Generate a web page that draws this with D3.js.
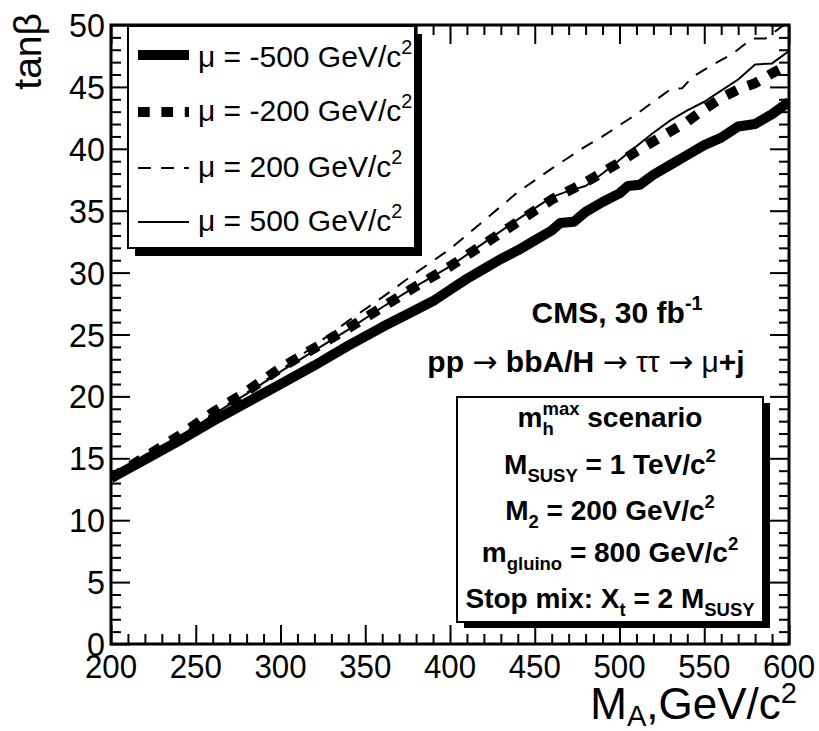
<!DOCTYPE html>
<html><head><meta charset="utf-8">
<script src="https://cdn.jsdelivr.net/npm/d3@7"></script>
<style>
body{margin:0;background:#fff}
svg{display:block}
text{font-family:"Liberation Sans",Arial,Helvetica,sans-serif;white-space:pre;fill:#000}
</style>
</head><body>
<svg id="c" width="819" height="731"></svg>
<script>
// ---------- data ----------
const xMajorTicks = [200,250,300,350,400,450,500,550,600];
const yMajorTicks = [0,5,10,15,20,25,30,35,40,45,50];

// mu = -500 GeV/c^2 (thick solid)
const mA_m500 = [200,220,240,260,280,300,320,340,360,380,390,400,410,420,430,440,450,460,465,473,480,490,500,505,512,520,530,540,550,560,570,580,590,600];
const tb_m500 = [13.4,14.9,16.4,18.0,19.5,21.0,22.5,24.1,25.6,27.0,27.7,28.6,29.5,30.3,31.1,31.8,32.6,33.4,34.0,34.1,34.9,35.7,36.4,37.0,37.1,37.9,38.7,39.5,40.3,40.9,41.8,42.0,42.8,43.8];

// mu = -200 GeV/c^2 (thick dotted)
const mA_m200 = [200,220,240,260,280,300,320,340,360,380,400,420,440,460,470,480,490,500,510,520,530,540,550,560,570,580,590,600];
const tb_m200 = [13.4,15.1,16.8,18.7,20.4,22.3,23.9,25.5,27.2,28.9,30.5,32.3,34.1,35.9,36.6,37.3,38.1,38.9,39.8,40.6,41.4,42.2,43.2,44.1,44.8,45.3,46.1,46.8];

// mu = 200 GeV/c^2 (dashed)
const mA_p200 = [200,220,240,260,280,300,320,340,360,380,400,420,440,460,470,480,490,500,510,520,530,537,543,555,567,578,586,600];
const tb_p200 = [13.4,15.1,16.8,18.6,20.3,22.1,24.1,26.1,28.0,30.0,31.9,34.2,36.5,38.4,39.3,40.2,41.0,41.9,42.8,43.8,44.8,44.9,45.8,46.8,47.7,48.9,48.9,50.3];

// mu = 500 GeV/c^2 (thin solid)
const mA_p500 = [200,220,240,260,280,300,320,340,360,380,400,420,440,460,470,480,490,500,510,520,530,540,550,560,570,580,590,600];
const tb_p500 = [13.4,15.0,16.6,18.5,20.2,22.0,23.7,25.4,27.2,28.9,30.5,32.4,34.3,36.1,36.6,37.0,38.0,39.1,40.2,41.3,42.3,43.1,43.8,44.7,45.6,46.8,46.9,47.9];

const legendValues = ["-500","-200","200","500"];

// ---------- layout ----------
const W=819,H=731;
const L=111,R=789,T=25,B=644;
const x = d3.scaleLinear().domain([200,600]).range([L,R]);
const y = d3.scaleLinear().domain([0,50]).range([B,T]);
const svg = d3.select('#c');
svg.append('rect').attr('width',W).attr('height',H).attr('fill','#fff');
svg.append('defs').append('clipPath').attr('id','clip')
  .append('rect').attr('x',L).attr('y',T).attr('width',R-L).attr('height',B-T);

const xMinor = d3.range(200,601,10).filter(v=>v%50!==0);
const yMinor = d3.range(0,51,1).filter(v=>v%5!==0);

function ax(gen, tx, ty, vals, len){
  const g = svg.append('g').attr('transform',`translate(${tx},${ty})`)
    .call(gen.tickValues(vals).tickSize(-len).tickFormat(''));
  g.select('.domain').remove();
  g.selectAll('line').attr('stroke','#000').attr('stroke-width',2);
}
[[xMajorTicks,19],[xMinor,10]].forEach(([v,l])=>{
  ax(d3.axisBottom(x),0,B,v,l);
  ax(d3.axisTop(x),0,T,v,l);
});
[[yMajorTicks,19],[yMinor,10]].forEach(([v,l])=>{
  ax(d3.axisLeft(y),L,0,v,l);
  ax(d3.axisRight(y),R,0,v,l);
});

// ---------- curves ----------
const line = d3.line().x(d=>x(d[0])).y(d=>y(d[1]));
const series = [
  {xs:mA_m500, ys:tb_m500, w:10, dash:null},
  {xs:mA_p500, ys:tb_p500, w:2, dash:null},
  {xs:mA_p200, ys:tb_p200, w:2, dash:"13,10"},
  {xs:mA_m200, ys:tb_m200, w:10, dash:"11.7,11.7"}
];
const cg = svg.append('g').attr('clip-path','url(#clip)');
series.forEach(s=>{
  cg.append('path').datum(s.xs.map((v,i)=>[v,s.ys[i]]))
    .attr('d',line).attr('fill','none').attr('stroke','#000')
    .attr('stroke-width',s.w).attr('stroke-linejoin','round')
    .attr('stroke-dasharray',s.dash);
});

// frame
svg.append('rect').attr('x',L).attr('y',T).attr('width',R-L).attr('height',B-T)
  .attr('fill','none').attr('stroke','#000').attr('stroke-width',3);

// ---------- tick labels ----------
xMajorTicks.forEach(v=>{
  svg.append('text').attr('transform',`translate(${x(v)},678) scale(0.92,1)`)
    .attr('text-anchor','middle').attr('font-size',34).text(v);
});
yMajorTicks.forEach(v=>{
  svg.append('text').attr('transform',`translate(105,${y(v)+12}) scale(0.95,1)`)
    .attr('text-anchor','end').attr('font-size',34).text(v);
});

// ---------- rich text helper ----------
function rich(px, py, anchor, size, segs, weight, subK, supK){
  const sk = subK===undefined ? 0.3 : subK;
  const pk = supK===undefined ? 0.42 : supK;
  const t = svg.append('text').attr('x',px).attr('y',py).attr('text-anchor',anchor)
    .attr('font-size',size).attr('font-weight',weight||'normal');
  let cur = 0;
  segs.forEach(s=>{
    const target = s.k==='sub' ? size*sk : s.k==='sup' ? -size*pk : 0;
    const fs = s.k ? size*0.66 : size;
    const ts = t.append('tspan').attr('dy',target-cur).attr('font-size',fs).text(s.t);
    if(s.dx) ts.attr('dx',s.dx);
    if(s.w) ts.attr('font-weight',s.w);
    if(s.f) ts.style('font-family',s.f);
    cur = target;
  });
  return t;
}

// axis titles
svg.append('text').attr('transform','translate(41,13) rotate(-90)')
  .attr('text-anchor','end').attr('font-size',39).text('tanβ');
rich(797,719,'end',44,[{t:'M'},{t:'A',k:'sub'},{t:',GeV/c'},{t:'2',k:'sup'}],'normal',0.17,0.36);

// ---------- legend ----------
const lg = {x:128,y:26,w:287,h:222};
svg.append('rect').attr('x',lg.x+7).attr('y',lg.y+8).attr('width',lg.w).attr('height',lg.h).attr('fill','#000');
svg.append('rect').attr('x',lg.x).attr('y',lg.y).attr('width',lg.w).attr('height',lg.h)
  .attr('fill','#fff').attr('stroke','#000').attr('stroke-width',2);
const legStyle = [series[0],series[3],series[2],series[1]];
const sampleY = [55,112,168,222];
const textY = [67,121,177,231];
legendValues.forEach((v,i)=>{
  const s = legStyle[i];
  svg.append('line').attr('x1',138).attr('x2',189).attr('y1',sampleY[i]).attr('y2',sampleY[i])
    .attr('stroke','#000').attr('stroke-width',s.w).attr('stroke-dasharray',s.dash);
  rich(198,textY[i],'start',30,[{t:'μ = '+v+' GeV/c'},{t:'2',k:'sup'}]);
});

// ---------- annotations ----------
const AR = '"DejaVu Sans",sans-serif';
rich(617,323,'middle',30,[{t:'CMS, 30 fb'},{t:'-1',k:'sup'}],'bold');
rich(586,372,'middle',30,[
  {t:'pp '},{t:'→',w:'normal',f:AR},{t:' bbA/H '},{t:'→',w:'normal',f:AR},
  {t:' ττ ',w:'normal'},{t:'→',w:'normal',f:AR},{t:' μ',w:'normal'},{t:'+j'}],'bold');

// info box
const ib = {x:457,y:397,w:306,h:225};
svg.append('rect').attr('x',ib.x+7).attr('y',ib.y+6).attr('width',ib.w).attr('height',ib.h).attr('fill','#000');
svg.append('rect').attr('x',ib.x).attr('y',ib.y).attr('width',ib.w).attr('height',ib.h)
  .attr('fill','#fff').attr('stroke','#000').attr('stroke-width',2);
const bs = 28, bc = 610;
rich(bc,427,'middle',bs,[{t:'m'},{t:'h',k:'sub'},{t:'max',k:'sup',dx:-0.611*bs*0.66},{t:' scenario'}],'bold');
rich(bc,474,'middle',bs,[{t:'M'},{t:'SUSY',k:'sub'},{t:' = 1 TeV/c'},{t:'2',k:'sup'}],'bold');
rich(bc,520,'middle',bs,[{t:'M'},{t:'2',k:'sub'},{t:' = 200 GeV/c'},{t:'2',k:'sup'}],'bold');
rich(bc,562,'middle',bs,[{t:'m'},{t:'gluino',k:'sub'},{t:' = 800 GeV/c'},{t:'2',k:'sup'}],'bold');
rich(bc,608,'middle',bs,[{t:'Stop mix: X'},{t:'t',k:'sub'},{t:' = 2 M'},{t:'SUSY',k:'sub'}],'bold');
</script>
</body></html>
